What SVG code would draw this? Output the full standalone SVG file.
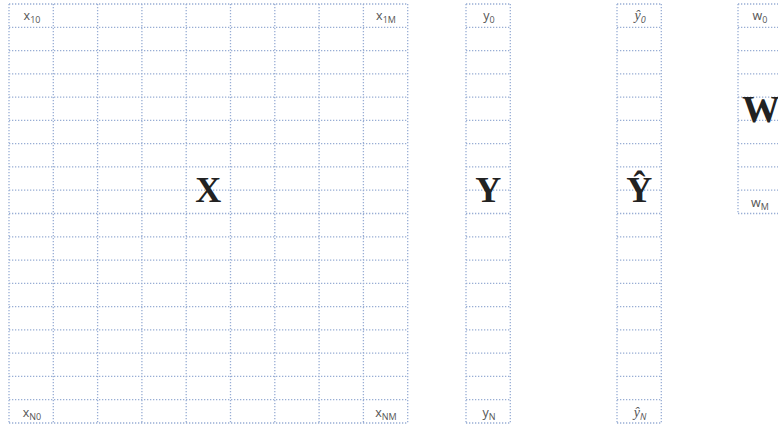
<svg xmlns="http://www.w3.org/2000/svg" width="778" height="429" viewBox="0 0 778 429">
  <style>
    .grid { fill: none; stroke: #98add4; stroke-width: 1.3; stroke-dasharray: 1.3 1.7; }
    .lbl { font-family: "Open Sans", "Liberation Sans", sans-serif; font-size: 12.5px; fill: #555555; text-anchor: middle; }
    .sub { font-size: 9px; }
    .hat { font-family: "Liberation Serif", serif; font-style: italic; font-size: 14px; fill: #555555; text-anchor: middle; }
    .big { font-family: "Liberation Serif", serif; font-weight: bold; font-size: 36px; fill: #222222; text-anchor: middle; }
  </style>
  <rect width="778" height="429" fill="#ffffff"/>

  <g id="matrix-X">
    <path class="grid" d="M9 4V423M53.3 4V423M97.6 4V423M141.9 4V423M186.2 4V423M230.5 4V423M274.8 4V423M319.1 4V423M363.4 4V423M407.7 4V423
      M9 4H407.7M9 27.28H407.7M9 50.56H407.7M9 73.83H407.7M9 97.11H407.7M9 120.39H407.7M9 143.67H407.7M9 166.94H407.7M9 190.22H407.7M9 213.5H407.7
      M9 236.78H407.7M9 260.06H407.7M9 283.33H407.7M9 306.61H407.7M9 329.89H407.7M9 353.17H407.7M9 376.44H407.7M9 399.72H407.7M9 423H407.7"/>
    <text class="lbl" x="32" y="20">x<tspan class="sub" dy="2.5">10</tspan></text>
    <text class="lbl" x="386" y="20">x<tspan class="sub" dy="2.5">1M</tspan></text>
    <text class="lbl" x="32" y="417">x<tspan class="sub" dy="2.5">N0</tspan></text>
    <text class="lbl" x="386" y="417">x<tspan class="sub" dy="2.5">NM</tspan></text>
    <text class="big" x="208.3" y="202">X</text>
  </g>

  <g id="vector-Y">
    <path class="grid" d="M466 4V423M510.3 4V423
      M466 4H510.3M466 27.28H510.3M466 50.56H510.3M466 73.83H510.3M466 97.11H510.3M466 120.39H510.3M466 143.67H510.3M466 166.94H510.3M466 190.22H510.3M466 213.5H510.3
      M466 236.78H510.3M466 260.06H510.3M466 283.33H510.3M466 306.61H510.3M466 329.89H510.3M466 353.17H510.3M466 376.44H510.3M466 399.72H510.3M466 423H510.3"/>
    <text class="lbl" x="489" y="20">y<tspan class="sub" dy="2.5">0</tspan></text>
    <text class="lbl" x="489" y="417">y<tspan class="sub" dy="2.5">N</tspan></text>
    <text class="big" x="488.2" y="202">Y</text>
  </g>

  <g id="vector-Yhat">
    <path class="grid" d="M617 4V423M661.3 4V423
      M617 4H661.3M617 27.28H661.3M617 50.56H661.3M617 73.83H661.3M617 97.11H661.3M617 120.39H661.3M617 143.67H661.3M617 166.94H661.3M617 190.22H661.3M617 213.5H661.3
      M617 236.78H661.3M617 260.06H661.3M617 283.33H661.3M617 306.61H661.3M617 329.89H661.3M617 353.17H661.3M617 376.44H661.3M617 399.72H661.3M617 423H661.3"/>
    <text class="hat" x="640" y="20">ŷ<tspan class="lbl sub" dy="2.5">0</tspan></text>
    <text class="hat" x="640" y="417">ŷ<tspan class="lbl sub" dy="2.5">N</tspan></text>
    <text class="big" x="639.2" y="202">Ŷ</text>
  </g>

  <g id="vector-W">
    <path class="grid" d="M738 4V213.5M782.3 4V213.5
      M738 4H782.3M738 27.28H782.3M738 50.56H782.3M738 73.83H782.3M738 97.11H782.3M738 120.39H782.3M738 143.67H782.3M738 166.94H782.3M738 190.22H782.3M738 213.5H782.3"/>
    <text class="lbl" x="760" y="20">w<tspan class="sub" dy="2.5">0</tspan></text>
    <text class="lbl" x="760" y="207">w<tspan class="sub" dy="2.5">M</tspan></text>
    <text class="big" x="742" y="122" style="text-anchor:start;font-size:38px">W</text>
  </g>
</svg>
